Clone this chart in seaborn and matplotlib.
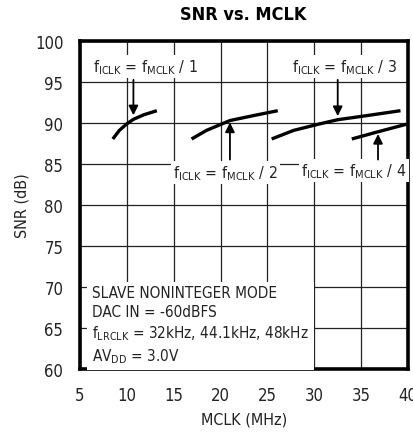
import matplotlib
matplotlib.use("Agg")
import matplotlib.pyplot as plt
import seaborn as sns
import pandas as pd
from matplotlib import font_manager

# ---- data ----
c1_x = [8.5, 9.2, 10.0, 10.7, 11.8, 13.2]
c1_y = [88.05, 89.1, 89.9, 90.45, 91.0, 91.5]
c2_x = [16.9, 18.5, 21.0, 23.5, 26.1]
c2_y = [88.05, 89.1, 90.3, 90.9, 91.5]
c3_x = [25.45, 27.8, 30.6, 32.5, 35.6, 39.2]
c3_y = [88.05, 89.1, 89.9, 90.4, 90.9, 91.5]
c4_x = [34.0, 36.7, 40.0]
c4_y = [88.05, 88.9, 89.9]
x_ticks = [5, 10, 15, 20, 25, 30, 35, 40]
y_ticks = [60, 65, 70, 75, 80, 85, 90, 95, 100]

sns.set_style("white")
cands = []
for f in font_manager.fontManager.ttflist:
    st = str(f.stretch).lower()
    if ("condensed" in st or "narrow" in f.name.lower() or "condensed" in f.name.lower()
            or st in ("semi-condensed", "condensed", "extra-condensed")):
        cands.append(f)
fam = "Liberation Sans"
stretch = "normal"
for f in cands:
    if "dejavu sans" in f.name.lower() and "mono" not in f.name.lower():
        fam, stretch = f.name, f.stretch
        break
else:
    if cands:
        fam, stretch = cands[0].name, cands[0].stretch
plt.rcParams["font.family"] = [fam, "DejaVu Sans"]
plt.rcParams["font.stretch"] = stretch
plt.rcParams["mathtext.fontset"] = "custom"
plt.rcParams["mathtext.rm"] = fam

rows = []
for cid, (xs, ys) in enumerate([(c1_x, c1_y), (c2_x, c2_y), (c3_x, c3_y), (c4_x, c4_y)]):
    for x, y in zip(xs, ys):
        rows.append({"curve": cid, "MCLK": x, "SNR": y})
df = pd.DataFrame(rows)

fig = plt.figure(figsize=(4.14, 4.35), dpi=100)
ax = fig.add_axes([80/414, 1-370/435, 328/414, 328/435])

sns.lineplot(data=df, x="MCLK", y="SNR", units="curve", estimator=None,
             color="black", lw=2.4, ax=ax, legend=False, zorder=4, solid_capstyle="butt")

ax.set_xlim(5, 40)
ax.set_ylim(60, 100)
ax.set_xticks(x_ticks)
ax.set_yticks(y_ticks)
ax.grid(True, color="#222222", lw=0.9)
ax.set_axisbelow(True)
for s in ax.spines.values():
    s.set_linewidth(2.6)
    s.set_color("black")
ax.tick_params(length=0, labelsize=12, pad=12, colors="#222222")
ax.set_xlabel("MCLK (MHz)", fontsize=11.5, labelpad=6, color="#222222")
ax.set_ylabel("SNR (dB)", fontsize=11.5, labelpad=4, color="#222222")
fig.text(243/414, 1-15/435, "SNR vs. MCLK", ha="center", va="center",
         fontsize=13, fontweight="bold", color="black")

sub = lambda s: r"$\mathregular{_{" + s + "}}$"
bbox = dict(facecolor="white", edgecolor="none", pad=1.5)
def lab(x, y, n, ha="left"):
    ax.text(x, y, "f" + sub("ICLK") + " = f" + sub("MCLK") + " / " + n,
            fontsize=11.3, ha=ha, va="center", color="#222222", bbox=bbox, zorder=5)

lab(6.4, 96.9, "1")
lab(27.6, 96.9, "3")
lab(14.9, 84.0, "2")
lab(28.6, 84.2, "4")

ap = dict(arrowstyle="-|>", color="black", lw=1.3, mutation_scale=14)
ax.annotate("", xy=(10.7, 90.6), xytext=(10.7, 95.6), arrowprops=ap, zorder=6)
ax.annotate("", xy=(32.5, 90.5), xytext=(32.5, 95.6), arrowprops=ap, zorder=6)
ax.annotate("", xy=(21.0, 90.4), xytext=(21.0, 85.2), arrowprops=ap, zorder=6)
ax.annotate("", xy=(36.8, 89.0), xytext=(36.8, 85.2), arrowprops=ap, zorder=6)

info = ("SLAVE NONINTEGER MODE\nDAC IN = -60dBFS\n"
        "f" + sub("LRCLK") + " = 32kHz, 44.1kHz, 48kHz\nAV" + sub("DD") + " = 3.0V")
ax.text(6.3, 60.5, info, fontsize=11, ha="left", va="bottom", color="#222222",
        linespacing=1.3, zorder=5,
        bbox=dict(facecolor="white", edgecolor="none", pad=4))

fig.savefig("out.png", dpi=100)
